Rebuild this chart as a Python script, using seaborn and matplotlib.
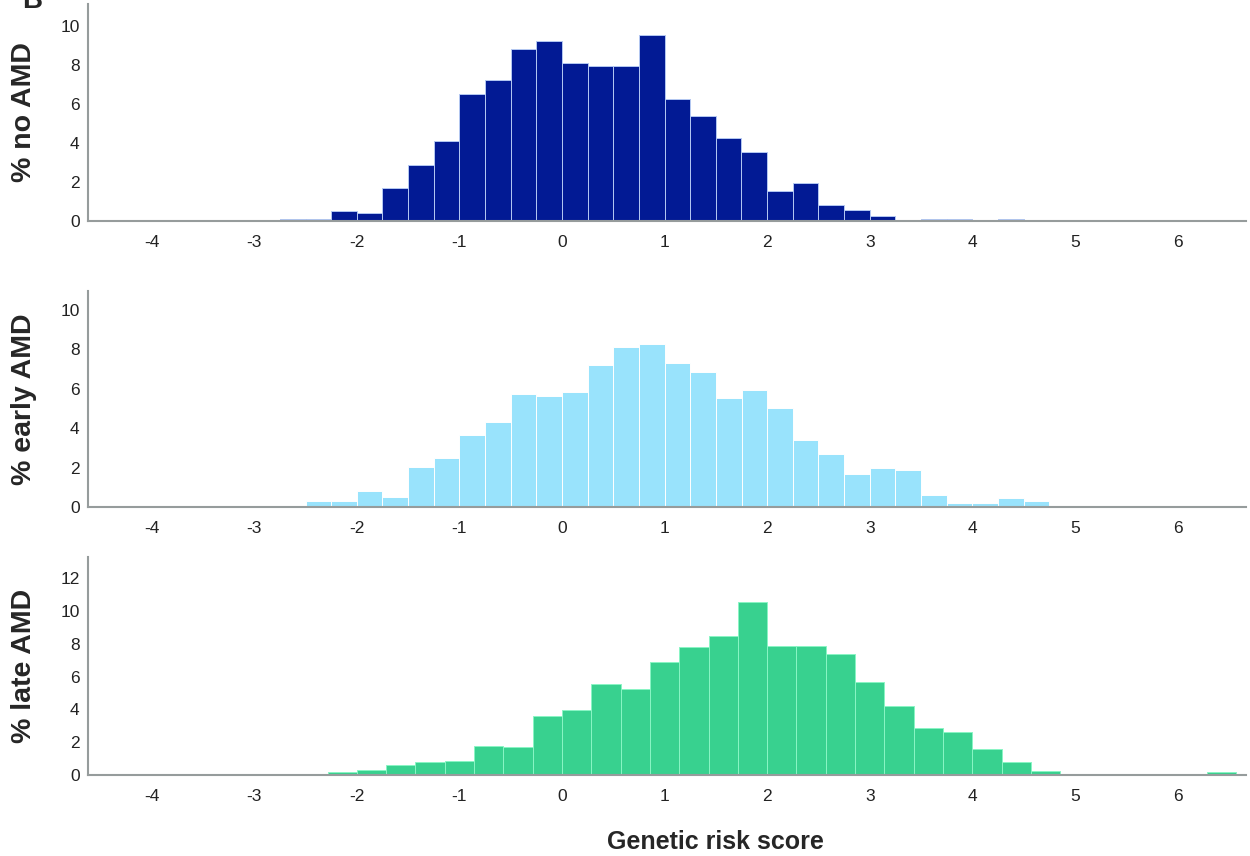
import numpy as np
import pandas as pd
import matplotlib
matplotlib.use("Agg")
import matplotlib.pyplot as plt
import seaborn as sns

# percent of subjects per bin
no_amd_start, no_amd_width = -2.75, 0.25
no_amd_pct = [0.12, 0.12, 0.53, 0.39, 1.68, 2.84, 4.09, 6.51, 7.23, 8.80,
              9.21, 8.09, 7.93, 7.93, 9.50, 6.24, 5.37, 4.26, 3.52, 1.52,
              1.96, 0.82, 0.55, 0.26, 0.0, 0.12, 0.12, 0.0, 0.12]

early_start, early_width = -3.0, 0.25
early_pct = [0.07, 0.0, 0.32, 0.32, 0.83, 0.49, 2.01, 2.50, 3.64, 4.31,
             5.72, 5.62, 5.82, 7.22, 8.12, 8.24, 7.32, 6.83, 5.53, 5.93,
             5.02, 3.39, 2.71, 1.69, 2.00, 1.90, 0.59, 0.19, 0.19, 0.48, 0.29]

late_start, late_width = -22 / 7, 2 / 7
late_pct = [0.06, 0.0, 0.08, 0.18, 0.31, 0.59, 0.78, 0.86, 1.78, 1.70,
            3.61, 3.96, 5.57, 5.27, 6.92, 7.82, 8.49, 10.53, 7.88, 7.88,
            7.39, 5.67, 4.21, 2.86, 2.62, 1.57, 0.78, 0.27, 0.06, 0.0,
            0.0, 0.06, 0.0, 0.16]

ylabels = ["% no AMD", "% early AMD", "% late AMD"]
colors = ["#021A94", "#99E3FC", "#38D18F"]
edges_col = ["#B4C8F2", "#FFFFFF", "#8AF5C4"]
ymax = [11.1, 10.95, 13.3]
yticks = [range(0, 11, 2), range(0, 11, 2), range(0, 13, 2)]
xticks = [-4, -3, -2, -1, 0, 1, 2, 3, 4, 5, 6]

sns.set_style("white")
plt.rcParams["font.family"] = ["Liberation Sans", "DejaVu Sans"]

fig = plt.figure(figsize=(12.5, 8.56), dpi=100)
boxes = [[0.0704, 0.7418, 0.926, 0.2535],
         [0.0704, 0.4077, 0.926, 0.2523],
         [0.0704, 0.0946, 0.926, 0.2547]]

panels = [(no_amd_start, no_amd_width, no_amd_pct),
          (early_start, early_width, early_pct),
          (late_start, late_width, late_pct)]

for i, (start, width, pct) in enumerate(panels):
    ax = fig.add_axes(boxes[i])
    n = len(pct)
    mids = start + width * (np.arange(n) + 0.5)
    df = pd.DataFrame({"score": mids, "pct": pct})
    sns.histplot(data=df, x="score", weights="pct", binwidth=width,
                 binrange=(start, start + width * (n - 0.01)), ax=ax,
                 color=colors[i], edgecolor=edges_col[i], linewidth=0.7,
                 alpha=1)
    ax.set_xlim(-4.62, 6.66)
    ax.set_ylim(0, ymax[i])
    ax.set_xticks(xticks)
    ax.set_xticklabels([str(t) for t in xticks])
    ax.set_yticks(list(yticks[i]))
    ax.tick_params(axis="both", length=0, labelsize=12.5, colors="#222222")
    ax.tick_params(axis="x", pad=10)
    ax.tick_params(axis="y", pad=6)
    ax.set_ylabel(ylabels[i], fontsize=20.5, fontweight="bold")
    ax.set_xlabel("")
    for s in ["top", "right"]:
        ax.spines[s].set_visible(False)
    for s in ["left", "bottom"]:
        ax.spines[s].set_color("#969c9c")
        ax.spines[s].set_linewidth(1.5)
    ax.yaxis.set_label_coords(-0.044, 0.5)

fig.text(0.572, 0.0164, "Genetic risk score", ha="center", va="center",
         fontsize=18, fontweight="bold")
fig.text(0.0176, 0.9907, "B", fontsize=20, fontweight="bold", va="baseline")

fig.savefig("out.png", dpi=100)
